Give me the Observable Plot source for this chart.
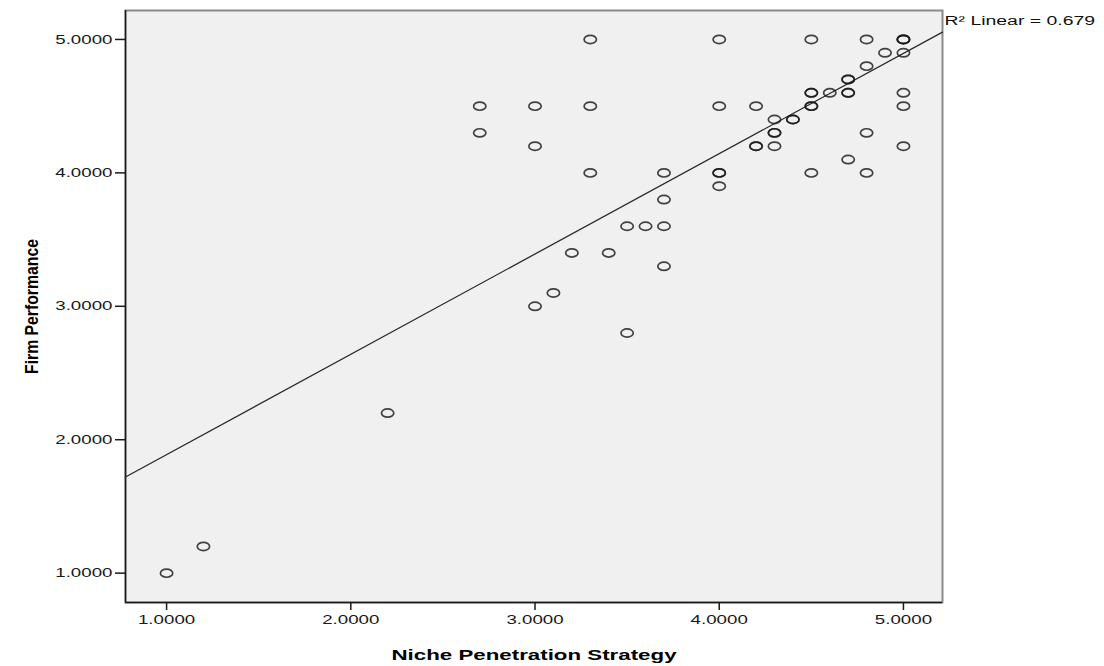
<!DOCTYPE html>
<html>
<head>
<meta charset="utf-8">
<script src="https://cdn.jsdelivr.net/npm/d3@7"></script>
<script src="https://cdn.jsdelivr.net/npm/@observablehq/plot@0.6"></script>
<style>
  html, body { margin: 0; padding: 0; background: #ffffff; }
  #chart svg { display: block; }
</style>
</head>
<body>
<div id="chart"></div>
<script>
// Niche Penetration Strategy (x) and Firm Performance (y), one entry per respondent
const nicheStrategy = [
  1.0, 1.2, 2.2, 2.7, 2.7, 3.0, 3.0, 3.0, 3.1, 3.2,
  3.3, 3.3, 3.3, 3.4, 3.5, 3.5, 3.6, 3.7, 3.7, 3.7,
  3.7, 4.0, 4.0, 4.0, 4.0, 4.0, 4.2, 4.2, 4.2, 4.3,
  4.3, 4.3, 4.3, 4.4, 4.4, 4.5, 4.5, 4.5, 4.5, 4.5,
  4.5, 4.6, 4.7, 4.7, 4.7, 4.7, 4.7, 4.8, 4.8, 4.8,
  4.8, 4.9, 5.0, 5.0, 5.0, 5.0, 5.0, 5.0, 5.0
];
const firmPerformance = [
  1.0, 1.2, 2.2, 4.5, 4.3, 4.5, 4.2, 3.0, 3.1, 3.4,
  5.0, 4.5, 4.0, 3.4, 3.6, 2.8, 3.6, 4.0, 3.8, 3.6,
  3.3, 5.0, 4.5, 4.0, 4.0, 3.9, 4.5, 4.2, 4.2, 4.4,
  4.3, 4.3, 4.2, 4.4, 4.4, 5.0, 4.6, 4.6, 4.5, 4.5,
  4.0, 4.6, 4.7, 4.7, 4.6, 4.6, 4.1, 5.0, 4.8, 4.3,
  4.0, 4.9, 5.0, 5.0, 5.0, 4.9, 4.6, 4.5, 4.2
];
const xTicks = [1, 2, 3, 4, 5];
const yTicks = [1, 2, 3, 4, 5];
const xDomain = [0.777, 5.212];
const yDomain = [0.78, 5.217];
// Linear fit as shown on the chart
const fitIntercept = 1.136;
const fitSlope = 0.752;
const r2Label = "R² Linear = 0.679";
const xTitle = "Niche Penetration Strategy";
const yTitle = "Firm Performance";

const points = nicheStrategy.map((x, i) => ({x, y: firmPerformance[i]}));
const fitLine = xDomain.map(x => ({x, y: fitIntercept + fitSlope * x}));

const ellipse = {
  draw(ctx, size) {
    const ry = Math.sqrt(size / Math.PI), rx = ry * 1.5;
    const kx = rx * 0.5523, ky = ry * 0.5523;
    ctx.moveTo(rx, 0);
    ctx.bezierCurveTo(rx, ky, kx, ry, 0, ry);
    ctx.bezierCurveTo(-kx, ry, -rx, ky, -rx, 0);
    ctx.bezierCurveTo(-rx, -ky, -kx, -ry, 0, -ry);
    ctx.bezierCurveTo(kx, -ry, rx, -ky, rx, 0);
    ctx.closePath();
  }
};

const font = "'Liberation Sans', Arial, sans-serif";

const chart = Plot.plot({
  width: 1104,
  height: 666,
  marginLeft: 125,
  marginRight: 162,
  marginTop: 10,
  marginBottom: 64,
  style: {fontFamily: font, background: "#ffffff", overflow: "visible"},
  x: {domain: xDomain},
  y: {domain: yDomain},
  marks: [
    Plot.frame({fill: "#f0f0f0", stroke: "#8a8a8a", strokeWidth: 2}),
    Plot.ruleX([xDomain[0]], {stroke: "#1a1a1a", strokeWidth: 1.5}),
    Plot.ruleY([yDomain[0]], {stroke: "#1a1a1a", strokeWidth: 1.5}),
    Plot.axisX({ticks: xTicks, tickFormat: d => d.toFixed(4), tickSize: 8, tickPadding: 4,
      fontSize: 13, stroke: "#1a1a1a", strokeWidth: 1.5, fill: "#1a1a1a", label: null,
      className: "wide"}),
    Plot.axisY({ticks: yTicks, tickFormat: d => d.toFixed(4), tickSize: 10, tickPadding: 3,
      fontSize: 13, stroke: "#1a1a1a", strokeWidth: 1.5, fill: "#1a1a1a", label: null,
      className: "wide"}),
    Plot.line(fitLine, {x: "x", y: "y", stroke: "#2a2a2a", strokeWidth: 1.3}),
    Plot.dot(points, {x: "x", y: "y", symbol: ellipse, r: 4.1, fill: "none",
      stroke: "#1a1a1a", strokeWidth: 1.7, strokeOpacity: 0.82}),
    Plot.text([r2Label], {x: xDomain[1], y: fitIntercept + fitSlope * xDomain[1],
      text: d => d, textAnchor: "start", dx: 2, dy: -11, fontSize: 13.5, fill: "#111",
      className: "wide"}),
    Plot.text([xTitle], {frameAnchor: "bottom", text: d => d, dy: 53, fontSize: 15.5,
      fontWeight: "bold", fill: "#000", textAnchor: "middle", lineAnchor: "middle",
      className: "wide"}),
    Plot.text([yTitle], {frameAnchor: "left", text: d => d, rotate: -90, dx: -94,
      fontSize: 19, fontWeight: "bold", fill: "#000", textAnchor: "middle",
      lineAnchor: "middle", fontFamily: font, className: "ytitle"})
  ]
});
// horizontal stretch of texts about their anchor (as in the reference rendering)
function stretch(sel, sx) {
  chart.querySelectorAll(sel).forEach(t => {
    const tr = t.getAttribute("transform");
    if (tr && tr.includes("translate")) {
      t.setAttribute("transform", tr + ` scale(${sx},1)`);
    } else {
      const x = +(t.getAttribute("x") || 0), y = +(t.getAttribute("y") || 0);
      t.setAttribute("transform", `${tr || ""} translate(${x},${y}) scale(${sx},1) translate(${-x},${-y})`);
    }
  });
}
stretch(".wide text", 1.44);
stretch(".ytitle text", 0.83);
document.getElementById("chart").appendChild(chart);
</script>
</body>
</html>
